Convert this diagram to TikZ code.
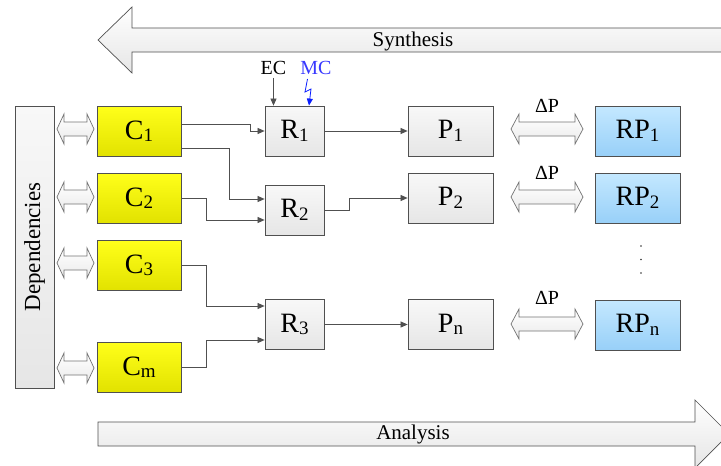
\documentclass[tikz,border=0pt]{standalone}
\usepackage{fontspec}
\setmainfont{Liberation Serif}
\usetikzlibrary{arrows.meta}
\definecolor{edge}{HTML}{505050}
\definecolor{ylwtop}{HTML}{FFFF1A}
\definecolor{ylwbot}{HTML}{E2E200}
\definecolor{bluetop}{HTML}{C4E8FF}
\definecolor{bluebot}{HTML}{98D0F8}
\definecolor{graytop}{HTML}{F8F8F8}
\definecolor{graybot}{HTML}{E6E6E6}
\definecolor{mcblue}{HTML}{3838FF}
\definecolor{ltblue}{HTML}{0A1EFF}
\newcommand\lowsub[1]{\raisebox{-2.5pt}{\fontsize{19}{20}\selectfont #1}}
\begin{document}
\begin{tikzpicture}[x=1pt,y=-1pt,
  box/.style={draw=edge, line width=0.8pt, inner sep=0pt, anchor=center, font=\fontsize{28}{30}\selectfont},
  graybox/.style={top color=graytop, bottom color=graybot},
  ybox/.style={top color=ylwtop, bottom color=ylwbot},
  bbox/.style={top color=bluetop, bottom color=bluebot},
  csize/.style={minimum width=84pt, minimum height=50pt},
  rsize/.style={minimum width=59pt, minimum height=50pt},
  psize/.style={minimum width=85pt, minimum height=50pt},
  conn/.style={draw=edge, line width=0.7pt, -{Triangle[length=7pt,width=6pt]}},
  bigarrow/.style={draw=edge, line width=0.7pt, top color=white, bottom color=black!10},
  dblarrow/.style={draw=black!55, line width=0.7pt, top color=white, bottom color=black!8},
  lbl/.style={font=\fontsize{20}{22}\selectfont, inner sep=0pt}
]
\useasboundingbox (0,0) rectangle (721,466);
\clip (0,0) rectangle (721,466);

% big arrows
\path[bigarrow] (98,40) -- (132,7) -- (132,28) -- (730,28) -- (730,52) -- (132,52) -- (132,73) -- cycle;
\node[lbl, font=\fontsize{21}{23}\selectfont] (syn) at (413,41) {Synthesis};
\path[bigarrow] (98,422) -- (695,422) -- (695,400) -- (729,434) -- (695,468) -- (695,446) -- (98,446) -- cycle;
\node[lbl, font=\fontsize{21}{23}\selectfont] (ana) at (413,434) {Analysis};

% dependencies
\node[box, graybox, rotate=90, minimum width=282pt, minimum height=39pt, font=\fontsize{23}{25}\selectfont] (dep) at (34.5,247) {Dependencies};

% C boxes
\node[box, ybox, csize] (C1) at (139,131) {C\lowsub{1}};
\node[box, ybox, csize] (C2) at (139,198) {C\lowsub{2}};
\node[box, ybox, csize] (C3) at (139,265.5) {C\lowsub{3}};
\node[box, ybox, csize] (Cm) at (139,367) {C\lowsub{m}};

% R boxes
\node[box, graybox, rsize] (R1) at (294.5,131) {R\lowsub{1}};
\node[box, graybox, rsize] (R2) at (294.5,210) {R\lowsub{2}};
\node[box, graybox, rsize] (R3) at (294.5,324.5) {R\lowsub{3}};

% P boxes
\node[box, graybox, psize] (P1) at (450.5,131) {P\lowsub{1}};
\node[box, graybox, psize] (P2) at (450.5,198) {P\lowsub{2}};
\node[box, graybox, psize] (Pn) at (450.5,324.5) {P\lowsub{n}};

% RP boxes
\node[box, bbox, psize] (RP1) at (637.5,131) {RP\lowsub{1}};
\node[box, bbox, psize] (RP2) at (637.5,198) {RP\lowsub{2}};
\node[box, bbox, psize] (RPn) at (637.5,325) {RP\lowsub{n}};

% dots
\foreach \yy in {246,259.5,273} \fill[black!80] (641,\yy) circle (0.9);

% double arrows left
\foreach \yc in {129,197,263,368} {
  \path[dblarrow] (57,\yc) -- (64,\yc-15) -- (64,\yc-7) -- (87,\yc-7) -- (87,\yc-15) -- (94,\yc) -- (87,\yc+15) -- (87,\yc+7) -- (64,\yc+7) -- (64,\yc+15) -- cycle;
}
% double arrows right
\foreach \yc in {129,197,324} {
  \path[dblarrow] (511,\yc) -- (519,\yc-15) -- (519,\yc-7) -- (575,\yc-7) -- (575,\yc-15) -- (583,\yc) -- (575,\yc+15) -- (575,\yc+7) -- (519,\yc+7) -- (519,\yc+15) -- cycle;
}
\node[lbl] (dp1) at (547,106) {ΔP};
\node[lbl] (dp2) at (547,173) {ΔP};
\node[lbl] (dp3) at (547,298) {ΔP};

% connectors
\draw[conn] ([yshift=7pt]C1.east) -- ++(69,0) |- (R1.west);
\draw[conn] ([yshift=-17pt]C1.east) -- ++(48,0) |- ([yshift=11pt]R2.west);
\draw[conn] (C2.east) -- ++(25,0) |- ([yshift=-10pt]R2.west);
\draw[conn] (C3.east) -- ++(25,0) |- ([yshift=18.5pt]R3.west);
\draw[conn] (Cm.east) -- ++(25,0) |- ([yshift=-15.5pt]R3.west);
\draw[conn] (R1.east) -- (P1.west);
\draw[conn] (R2.east) -- ++(25,0) |- (P2.west);
\draw[conn] (R3.east) -- (Pn.west);

% EC / MC
\node[lbl] (EC) at (273.5,68) {EC};
\node[lbl, text=mcblue] (MC) at (316,68) {MC};
\draw[conn] (EC.south) ++(0,-3pt) coordinate (ecs) -- (ecs |- R1.north);
\coordinate (mcs) at (307.5,79);
\draw[ltblue, line width=0.8pt, -{Triangle[length=7pt,width=6pt]}] (mcs) -- (305,92) -- (311,89) -- ([xshift=14.5pt]R1.north);
\end{tikzpicture}
\end{document}
